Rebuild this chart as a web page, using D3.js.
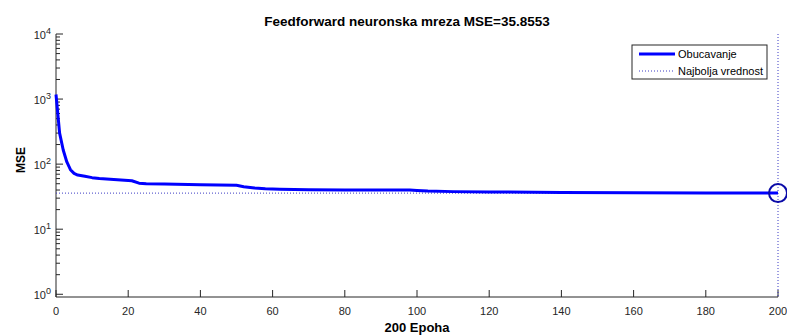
<!DOCTYPE html>
<html>
<head>
<meta charset="utf-8">
<script src="https://cdn.jsdelivr.net/npm/d3@7"></script>
<style>
  body { margin: 0; background: #fff; }
  svg { display: block; font-family: "Liberation Sans", Arial, sans-serif; }
  .tick-label { font-size: 11px; fill: #262626; }
</style>
</head>
<body>
<svg id="chart" width="787" height="336"></svg>
<script>
// training performance per epoch
const epochs = [0, 1, 2, 3, 4, 5, 6, 8, 10, 12, 15, 18, 21, 23, 25, 30, 40, 50, 52, 55, 58, 62, 70, 80, 90, 98, 100, 103, 110, 120, 140, 160, 180, 200];
const mse = [1175, 300, 165, 108, 82, 72, 68, 65, 62, 60, 58.5, 57, 55.5, 51, 50, 49.3, 48.3, 47.3, 45, 43, 42, 41.2, 40.5, 40.2, 40, 39.9, 39.5, 38.5, 37.8, 37.3, 36.8, 36.4, 36.1, 35.8553];
const bestEpoch = 200;
const bestMse = 35.8553;
const xTicks = [0, 20, 40, 60, 80, 100, 120, 140, 160, 180, 200];
const yDecades = [0, 1, 2, 3, 4];
const legendLabels = ['Obucavanje', 'Najbolja vrednost'];

const svg = d3.select('#chart'),
      margin = { top: 34, right: 9, bottom: 39, left: 56 },
      width = +svg.attr('width') - margin.left - margin.right,
      height = +svg.attr('height') - margin.top - margin.bottom;

const g = svg.append('g')
    .attr('transform', `translate(${margin.left},${margin.top})`);

const x = d3.scaleLinear().domain([0, 200]).range([0, width]);
const y = d3.scaleLog().domain([Math.pow(10, -0.042), 1e4]).range([height, 0]);

const axisColor = '#262626';

// y axis with major + minor ticks pointing inward
g.append('line')
  .attr('x1', 0).attr('x2', 0).attr('y1', 0).attr('y2', height)
  .attr('stroke', axisColor);

const minor = [];
yDecades.forEach(d => {
  if (d < 4) for (let k = 2; k <= 9; k++) minor.push(k * Math.pow(10, d));
});
g.selectAll('.ytick-minor')
  .data(minor)
  .enter().append('line')
    .attr('x1', 0).attr('x2', 4)
    .attr('y1', d => y(d)).attr('y2', d => y(d))
    .attr('stroke', axisColor);

g.selectAll('.ytick-major')
  .data(yDecades)
  .enter().append('line')
    .attr('x1', 0).attr('x2', 7)
    .attr('y1', d => y(Math.pow(10, d))).attr('y2', d => y(Math.pow(10, d)))
    .attr('stroke', axisColor);

const yLab = g.selectAll('.ylab')
  .data(yDecades)
  .enter().append('text')
    .attr('class', 'tick-label')
    .attr('x', -5)
    .attr('y', d => y(Math.pow(10, d)) + 5)
    .attr('text-anchor', 'end');
yLab.append('tspan').text('10');
yLab.append('tspan').attr('dy', -5).style('font-size', '9px').text(d => d);

// x axis
g.append('line')
  .attr('x1', 0).attr('x2', width).attr('y1', height).attr('y2', height)
  .attr('stroke', axisColor);

g.selectAll('.xtick')
  .data(xTicks)
  .enter().append('line')
    .attr('x1', d => x(d)).attr('x2', d => x(d))
    .attr('y1', height).attr('y2', height - 7)
    .attr('stroke', axisColor);

g.selectAll('.xlab')
  .data(xTicks)
  .enter().append('text')
    .attr('class', 'tick-label')
    .attr('x', d => x(d))
    .attr('y', height + 18)
    .attr('text-anchor', 'middle')
    .text(d => d);

// best value lines
g.append('line')
  .attr('x1', x(0)).attr('x2', x(200))
  .attr('y1', y(bestMse)).attr('y2', y(bestMse))
  .attr('stroke', '#3b3bc4').attr('stroke-dasharray', '1,2');

g.append('line')
  .attr('x1', x(bestEpoch)).attr('x2', x(bestEpoch))
  .attr('y1', 0).attr('y2', height)
  .attr('stroke', '#3b3bc4').attr('stroke-dasharray', '1,2');

// training curve
const data = epochs.map((e, i) => ({ e, v: mse[i] }));
g.append('path')
  .datum(data)
  .attr('fill', 'none')
  .attr('stroke', '#0000ff')
  .attr('stroke-width', 3)
  .attr('stroke-linejoin', 'round')
  .attr('d', d3.line().x(d => x(d.e)).y(d => y(d.v)));

g.append('circle')
  .attr('cx', x(bestEpoch)).attr('cy', y(bestMse))
  .attr('r', 9)
  .attr('fill', 'none')
  .attr('stroke', '#0a0aa8')
  .attr('stroke-width', 2);

// title and labels
svg.append('text')
  .attr('x', 407)
  .attr('y', 26)
  .attr('text-anchor', 'middle')
  .style('font-size', '13.5px').style('font-weight', 'bold')
  .text('Feedforward neuronska mreza MSE=' + bestMse);

svg.append('text')
  .attr('x', margin.left + width / 2)
  .attr('y', 332)
  .attr('text-anchor', 'middle')
  .style('font-size', '13px').style('font-weight', 'bold')
  .text('200 Epoha');

svg.append('text')
  .attr('transform', 'rotate(-90)')
  .attr('x', -160)
  .attr('y', 25)
  .attr('text-anchor', 'middle')
  .style('font-size', '12px').style('font-weight', 'bold')
  .text('MSE');

// legend
const legend = svg.append('g').attr('transform', 'translate(632,45)');
legend.append('rect')
  .attr('width', 135).attr('height', 34)
  .attr('fill', '#fff').attr('stroke', '#262626');
legend.append('line')
  .attr('x1', 7).attr('x2', 43).attr('y1', 9).attr('y2', 9)
  .attr('stroke', '#0000ff').attr('stroke-width', 3);
legend.append('line')
  .attr('x1', 7).attr('x2', 43).attr('y1', 26).attr('y2', 26)
  .attr('stroke', '#3b3bc4').attr('stroke-dasharray', '1,2');
legend.selectAll('.leg-text')
  .data(legendLabels)
  .enter().append('text')
    .attr('x', 46)
    .attr('y', (d, i) => 13 + i * 17)
    .style('font-size', '11px')
    .attr('fill', '#000')
    .text(d => d);
</script>
</body>
</html>
